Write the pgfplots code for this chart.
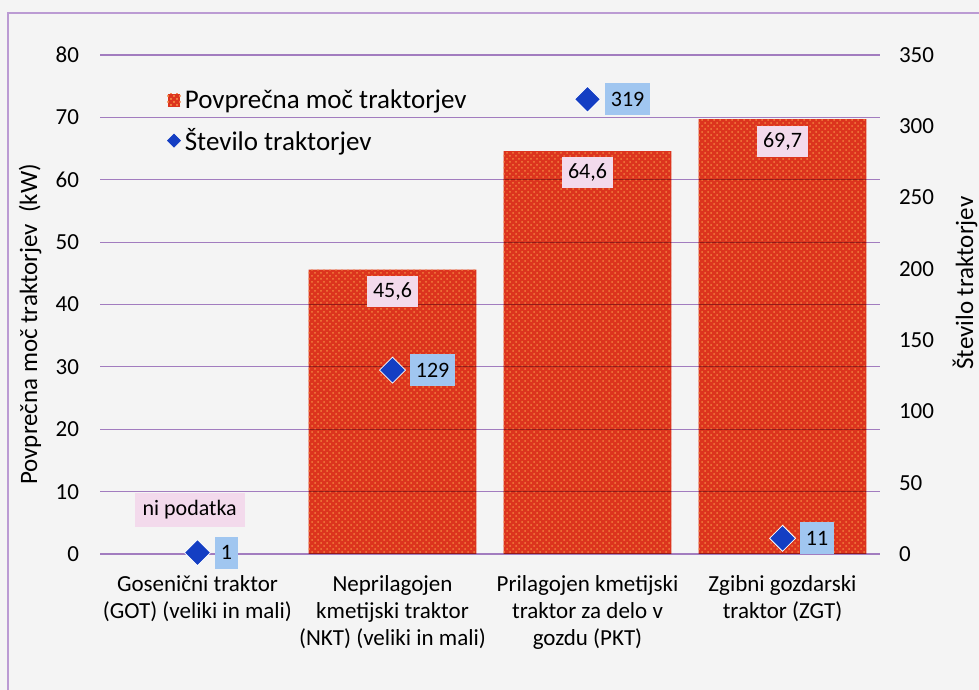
\documentclass[border=0pt]{standalone}
\usepackage{fontspec}
\setmainfont{Carlito}
\usepackage{pgfplots}
\pgfplotsset{compat=1.18}
\usepackage{pgfplotstable}
\usetikzlibrary{patterns}

\definecolor{barred}{RGB}{220,52,30}
\definecolor{bardot}{RGB}{242,128,62}
\definecolor{gridpurple}{RGB}{170,130,200}
\definecolor{diablue}{RGB}{20,62,195}
\definecolor{lblpink}{RGB}{243,218,236}
\definecolor{lblblue}{RGB}{160,198,240}
\definecolor{bgcol}{RGB}{244,244,244}

\pgfdeclareplotmark{sqdiamond}{%
  \pgfpathmoveto{\pgfqpoint{0pt}{\pgfplotmarksize}}%
  \pgfpathlineto{\pgfqpoint{\pgfplotmarksize}{0pt}}%
  \pgfpathlineto{\pgfqpoint{0pt}{-\pgfplotmarksize}}%
  \pgfpathlineto{\pgfqpoint{-\pgfplotmarksize}{0pt}}%
  \pgfpathclose\pgfusepathqfillstroke}
\pgfdeclareplotmark{nomark}{}

\pgfplotstableread{
x y
1 45.6
2 64.6
3 69.7
}\powertable
\pgfplotstableread{
x n
0 1
1 129
2 319
3 11
}\counttable

\begin{document}
\begin{tikzpicture}
\useasboundingbox (0,0) rectangle (489.5pt,345pt);
\fill[bgcol] (0,0) rectangle (489.5pt,345pt);
\draw[gridpurple!80, line width=0.6pt] (4pt,-5pt) -- (4pt,338.5pt) -- (495pt,338.5pt);

\pgfplotsset{
  every axis/.append style={
    scale only axis, width=390pt, height=249.5pt,
    at={(50pt,68pt)}, anchor=south west,
    xmin=-0.5, xmax=3.5,
    /pgf/number format/assume math mode=true,
    /pgf/number format/use comma,
    /pgf/number format/1000 sep={},
    tick label style={font=\fontsize{11.5}{13}\selectfont},
  }
}

\begin{axis}[
  ymin=0, ymax=80, ytick={0,10,...,80},
  axis on top,
  axis x line*=bottom, axis y line*=left,
  axis line style={draw=none},
  major tick length=0pt,
  ymajorgrids, grid style={gridpurple, line width=0.6pt, blend mode=multiply},
  xtick={0,1,2,3},
  xticklabels={{Gosenični traktor\\(GOT) (veliki in mali)}, {Neprilagojen\\kmetijski traktor\\(NKT) (veliki in mali)}, {Prilagojen kmetijski\\traktor za delo v\\gozdu (PKT)}, {Zgibni gozdarski\\traktor (ZGT)}},
  xticklabel style={align=center, font=\fontsize{11.5}{13.5}\selectfont, yshift=-7pt},
  yticklabel style={xshift=-7pt},
  ylabel={Povprečna moč traktorjev\ \ (kW)},
  ylabel style={at={(axis description cs:-0.0897,0.46)}, anchor=center, font=\fontsize{12.5}{15}\selectfont},
  legend style={at={(axis description cs:0.078,0.948)}, anchor=north west, draw=none, fill=none, font=\fontsize{13.5}{15.5}\selectfont, row sep=4.5pt, cells={anchor=west}},
]
\addplot[ybar, bar width=0.86, draw=none, fill=barred,
  postaction={pattern=crosshatch dots, pattern color=bardot},
  legend image code/.code={\fill[barred] (0pt,-3.2pt) rectangle (6.4pt,3.2pt);
    \fill[pattern=crosshatch dots, pattern color=bardot] (0pt,-3.2pt) rectangle (6.4pt,3.2pt);}
  ] table[x=x,y=y]{\powertable};
\addlegendentry{Povprečna moč traktorjev}
\addlegendimage{legend image code/.code={\fill[diablue] (3.2pt,3.2pt) -- (6.4pt,0pt) -- (3.2pt,-3.2pt) -- (0pt,0pt) -- cycle;}}
\addlegendentry{Število traktorjev}
\end{axis}

\begin{axis}[
  ymin=0, ymax=350, ytick={0,50,...,350},
  axis y line*=right, axis x line=none,
  axis line style={draw=none}, major tick length=0pt,
  yticklabel style={xshift=6pt},
  ylabel={Število traktorjev},
  ylabel style={at={(axis description cs:1.109,0.543)}, anchor=center, font=\fontsize{12.5}{15}\selectfont},
]
\addplot[only marks, mark=sqdiamond, mark size=6.5pt,
  mark options={fill=diablue, draw=white, line width=0.4pt},
  nodes near coords,
  every node near coord/.append style={anchor=west, xshift=8.5pt, fill=lblblue, inner xsep=3pt, minimum height=16pt, text=black, font=\fontsize{11}{13}\selectfont},
  ] table[x=x,y=n]{\counttable};
\end{axis}

\begin{axis}[ymin=0, ymax=80, hide axis]
\addplot[only marks, mark=nomark,
  nodes near coords={\pgfmathprintnumber[fixed,fixed zerofill,precision=1,use comma]{\pgfplotspointmeta}},
  every node near coord/.append style={anchor=north, yshift=-3pt, fill=lblpink, inner xsep=3pt, minimum height=15.5pt, text=black, font=\fontsize{11}{13}\selectfont},
  ] table[x=x,y=y]{\powertable};
\node[fill=lblpink, inner xsep=4pt, minimum height=17pt, font=\fontsize{11}{13}\selectfont] at (axis cs:-0.04,7.05) {ni podatka};
\end{axis}
\end{tikzpicture}
\end{document}
